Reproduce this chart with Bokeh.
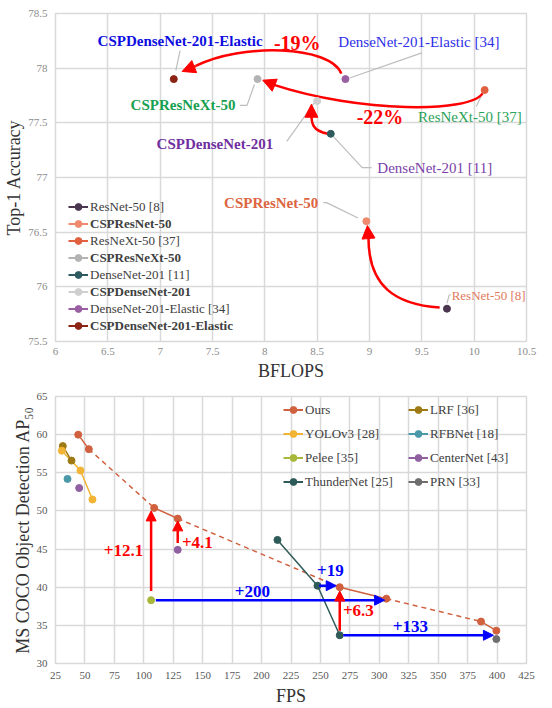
from bokeh.plotting import figure
from bokeh.models import (Legend, LegendItem, Label, Arrow, NormalHead,
                          FixedTicker, NumeralTickFormatter)
from bokeh.layouts import column
from bokeh.embed import file_html
from bokeh.resources import INLINE

SERIF = "Liberation Serif"
GRID = "#d9d9d9"

# ---------------- Top chart: ImageNet classification ----------------
cls_models = ["ResNet-50 [8]", "CSPResNet-50", "ResNeXt-50 [37]", "CSPResNeXt-50",
              "DenseNet-201 [11]", "CSPDenseNet-201", "DenseNet-201-Elastic [34]",
              "CSPDenseNet-201-Elastic"]
cls_bflops = [9.74, 8.97, 10.10, 7.93, 8.63, 8.50, 8.77, 7.13]
cls_top1 = [75.8, 76.6, 77.8, 77.9, 77.4, 77.7, 77.9, 77.9]
cls_colors = ["#4b3650", "#ef8a6e", "#e0603f", "#b3b3b3",
              "#2e5b5f", "#cfcfcf", "#9a5ea2", "#8b2414"]
cls_bold = [False, True, False, True, False, True, False, True]
cls_xticks = [6, 6.5, 7, 7.5, 8, 8.5, 9, 9.5, 10, 10.5]
cls_yticks = [75.5, 76, 76.5, 77, 77.5, 78, 78.5]

# point call-outs: text, colour
cls_callouts = ["ResNet-50 [8]", "CSPResNet-50", "ResNeXt-50  [37]", "CSPResNeXt-50",
                "DenseNet-201  [11]", "CSPDenseNet-201", "DenseNet-201-Elastic  [34]",
                "CSPDenseNet-201-Elastic"]
cls_callout_colors = ["#e07a5c", "#dc6540", "#2aa35a", "#16a050",
                      "#7b3fa8", "#7030a0", "#2f2fe8", "#0d0de0"]
reductions = ["-19%", "-22%"]

# ---------------- Bottom chart: MS COCO detection ----------------
det_names = ["Ours", "LRF [36]", "YOLOv3 [28]", "RFBNet [18]", "Pelee [35]",
             "CenterNet [43]", "ThunderNet [25]", "PRN [33]"]
det_colors = ["#d0603e", "#9e7a14", "#f2b434", "#4a98a8", "#a8b83a",
              "#9060a0", "#2f5a5a", "#6e6e6e"]
ours_fps = [44.3, 53.3, 108.8, 128.8, 266.4, 306.0, 386.4, 399.4]
ours_ap = [60.0, 58.1, 50.4, 49.0, 40.0, 38.5, 35.5, 34.3]
lrf_fps = [31.2, 38.6]
lrf_ap = [58.5, 56.6]
yolo_fps = [30.4, 46.2, 56.4]
yolo_ap = [57.9, 55.3, 51.5]
rfb_fps = [35.2]
rfb_ap = [54.2]
pelee_fps = [106.2]
pelee_ap = [38.3]
center_fps = [45.1, 128.8]
center_ap = [53.0, 44.9]
thunder_fps = [213.5, 247.5, 266.4]
thunder_ap = [46.2, 40.2, 33.7]
prn_fps = [399.4]
prn_ap = [33.2]
det_xticks = list(range(25, 426, 25))
det_yticks = [30, 35, 40, 45, 50, 55, 60, 65]
gains = ["+12.1", "+4.1", "+200", "+19", "+6.3", "+133"]


def style(p, xticks, yticks, tick_color):
    p.xaxis.ticker = FixedTicker(ticks=xticks)
    p.yaxis.ticker = FixedTicker(ticks=yticks)
    p.xaxis.formatter = NumeralTickFormatter(format="0.[0]")
    p.yaxis.formatter = NumeralTickFormatter(format="0.[0]")
    for ax in (p.xaxis, p.yaxis):
        ax.axis_line_color = None
        ax.major_tick_line_color = None
        ax.minor_tick_line_color = None
        ax.major_tick_out = 0
        ax.major_tick_in = 0
        ax.major_label_text_font = SERIF
        ax.major_label_text_font_size = "11px"
        ax.major_label_text_color = tick_color
        ax.axis_label_text_font = SERIF
        ax.axis_label_text_font_style = "normal"
        ax.axis_label_text_font_size = "18px"
        ax.axis_label_text_color = "#333333"
    p.xaxis.major_label_standoff = 6
    p.yaxis.major_label_standoff = 8
    p.xaxis.axis_label_standoff = 3
    p.yaxis.axis_label_standoff = 1
    p.xgrid.grid_line_color = GRID
    p.ygrid.grid_line_color = GRID
    p.xgrid.grid_line_width = 1.5
    p.ygrid.grid_line_width = 1.5
    p.outline_line_color = GRID
    p.outline_line_width = 1.5
    p.background_fill_color = "white"
    p.border_fill_color = "white"


# ======================= TOP FIGURE =======================
p1 = figure(width=544, height=385, x_range=(6, 10.5), y_range=(75.5, 78.5),
            output_backend="svg", toolbar_location=None,
            min_border_left=55, min_border_right=18, min_border_top=13, min_border_bottom=44)
style(p1, cls_xticks, cls_yticks, "#8c8c8c")
p1.xaxis.axis_label = "BFLOPS"
p1.yaxis.axis_label = "Top-1 Accuracy"

LEAD = "#bdbdbd"
bx, by = cls_bflops, cls_top1
# leader lines (anchored at the data points)
leaders = [
    ([bx[0], bx[0] + 0.02, bx[0] + 0.035], [by[0] + 0.05, by[0] + 0.12, by[0] + 0.13]),
    ([bx[1] - 0.08, bx[1] - 0.38, bx[1] - 0.41], [by[1] + 0.03, by[1] + 0.17, by[1] + 0.17]),
    ([bx[2] - 0.02, bx[2] - 0.08], [by[2] - 0.03, by[2] - 0.15]),
    ([bx[3] - 0.03, bx[3] - 0.10, bx[3] - 0.17], [by[3] - 0.05, by[3] - 0.24, by[3] - 0.24]),
    ([bx[4] + 0.03, bx[4] + 0.30, bx[4] + 0.39], [by[4] - 0.03, by[4] - 0.31, by[4] - 0.31]),
    ([bx[5] - 0.03, bx[5] - 0.29], [by[5] - 0.02, by[5] - 0.37]),
    ([bx[6] + 0.04, bx[6] + 0.73], [by[6] + 0.01, by[6] + 0.24]),
    ([bx[7] + 0.02, bx[7] + 0.06], [by[7] + 0.08, by[7] + 0.26]),
]
p1.multi_line([l[0] for l in leaders], [l[1] for l in leaders],
              line_color=LEAD, line_width=1.2)

# curved red arrows (ResNet->CSPResNet, DenseNet->CSPDenseNet, ResNeXt->CSPResNeXt, Elastic)
RED = "#ff0000"
curves = [
    # start, cp1, cp2, end, tip
    ((bx[0] - 0.07, by[0] + 0.01), (9.25, 75.84), (bx[1] + 0.02, 76.00),
     (bx[1] + 0.02, by[1] - 0.15), (bx[1] + 0.01, by[1] - 0.04)),
    ((bx[4] - 0.03, by[4]), (8.45, 77.43), (bx[5] - 0.055, 77.50),
     (bx[5] - 0.055, by[5] - 0.12), (bx[5] - 0.055, by[5] - 0.03)),
    ((bx[2] - 0.02, by[2] - 0.03), (9.96, 77.59), (8.91, 77.59),
     (bx[3] + 0.15, by[3] - 0.05), (bx[3] + 0.05, by[3] - 0.01)),
    ((bx[6] - 0.04, by[6] + 0.05), (8.63, 78.21), (7.77, 78.23),
     (bx[7] + 0.21, by[7] + 0.12), (bx[7] + 0.08, by[7] + 0.07)),
]
p1.bezier(x0=[c[0][0] for c in curves], y0=[c[0][1] for c in curves],
          x1=[c[3][0] for c in curves], y1=[c[3][1] for c in curves],
          cx0=[c[1][0] for c in curves], cy0=[c[1][1] for c in curves],
          cx1=[c[2][0] for c in curves], cy1=[c[2][1] for c in curves],
          line_color=RED, line_width=2.5)
for c in curves:
    p1.add_layout(Arrow(end=NormalHead(size=13, fill_color=RED, line_color=RED),
                        x_start=c[3][0], y_start=c[3][1], x_end=c[4][0], y_end=c[4][1],
                        line_color=RED, line_width=2.5))

# points + legend proxies (single-point lines draw nothing but give the legend its line)
normal_items, bold_items = [], []
for i in range(len(cls_models)):
    proxy = p1.line(x=[bx[i]], y=[by[i]], line_color=cls_colors[i], line_width=2)
    pt = p1.scatter(x=[bx[i]], y=[by[i]], size=7, fill_color=cls_colors[i],
                    line_color=cls_colors[i])
    item = LegendItem(label=cls_models[i], renderers=[proxy, pt])
    (bold_items if cls_bold[i] else normal_items).append(item)

leg_kw = dict(orientation="vertical", glyph_width=20, glyph_height=17, label_height=17,
              spacing=17, padding=0, margin=0, label_standoff=2,
              label_text_font=SERIF, label_text_font_size="13px",
              label_text_color="#404040", border_line_alpha=0, background_fill_alpha=0)
p1.add_layout(Legend(items=normal_items, location=(13, 24), **leg_kw))
p1.add_layout(Legend(items=bold_items, location=(13, 7), label_text_font_style="bold",
                     **leg_kw))

# call-out texts
callout_pos = [  # (x, y, align)
    (bx[0] + 0.045, by[0] + 0.12, "left"),
    (bx[1] - 0.46, by[1] + 0.17, "right"),
    (bx[2] + 0.39, by[2] - 0.25, "right"),
    (bx[3] - 0.21, by[3] - 0.24, "right"),
    (bx[4] + 0.445, by[4] - 0.31, "left"),
    (bx[5] - 0.42, by[5] - 0.39, "right"),
    (bx[6] + 0.72, by[6] + 0.34, "center"),
    (bx[7] + 0.06, by[7] + 0.35, "center"),
]
for i, (x, y, al) in enumerate(callout_pos):
    p1.add_layout(Label(x=x, y=y, text=cls_callouts[i], text_align=al,
                        text_baseline="middle", text_font=SERIF,
                        text_font_size="13px" if i == 0 else "15px",
                        text_color=cls_callout_colors[i],
                        text_font_style="bold" if cls_bold[i] else "normal"))
for txt, (x, y) in zip(reductions, [(8.31, 78.23), (9.10, 77.55)]):
    p1.add_layout(Label(x=x, y=y, text=txt, text_align="center", text_baseline="middle",
                        text_font=SERIF, text_font_size="20px", text_font_style="bold",
                        text_color=RED))

# ======================= BOTTOM FIGURE =======================
p2 = figure(width=544, height=323, x_range=(25, 425), y_range=(30, 65),
            output_backend="svg", toolbar_location=None,
            min_border_left=55, min_border_right=18, min_border_top=11, min_border_bottom=36)
style(p2, det_xticks, det_yticks, "#595959")
p2.xaxis.major_label_standoff = 8
p2.xaxis.axis_label_standoff = 4
p2.xaxis.axis_label = "FPS"
p2.yaxis.axis_label = "MS COCO Object Detection AP\u2085\u2080"

series = [(ours_fps, ours_ap), (lrf_fps, lrf_ap), (yolo_fps, yolo_ap), (rfb_fps, rfb_ap),
          (pelee_fps, pelee_ap), (center_fps, center_ap), (thunder_fps, thunder_ap),
          (prn_fps, prn_ap)]

# Ours: solid and dashed segments
solid_pairs = [(0, 1), (2, 3), (4, 5), (6, 7)]
dash_pairs = [(1, 2), (3, 4), (5, 6)]
p2.multi_line([[ours_fps[a], ours_fps[b]] for a, b in dash_pairs],
              [[ours_ap[a], ours_ap[b]] for a, b in dash_pairs],
              line_color=det_colors[0], line_width=1.5, line_dash="5 4")
p2.multi_line([[ours_fps[a], ours_fps[b]] for a, b in solid_pairs],
              [[ours_ap[a], ours_ap[b]] for a, b in solid_pairs],
              line_color=det_colors[0], line_width=1.5)
# connected competitors
for idx in (2, 1, 6):
    p2.line(series[idx][0], series[idx][1], line_color=det_colors[idx], line_width=1.5)

BLUE = "#0000ff"
gain_arrows = [  # (x0, y0, x1, y1, colour)
    (pelee_fps[0], pelee_ap[0] + 1.2, pelee_fps[0], ours_ap[2] - 0.4, RED),
    (center_fps[1], center_ap[1] + 0.9, center_fps[1], ours_ap[3] - 0.3, RED),
    (pelee_fps[0] + 4, pelee_ap[0], ours_fps[5] - 1.5, pelee_ap[0], BLUE),
    (thunder_fps[1] + 1.5, thunder_ap[1], ours_fps[4] - 3, thunder_ap[1], BLUE),
    (thunder_fps[2], thunder_ap[2] + 0.6, thunder_fps[2], ours_ap[4] - 0.5, RED),
    (thunder_fps[2] + 3, thunder_ap[2], ours_fps[7] - 2.5, thunder_ap[2], BLUE),
]
for x0, y0, x1, y1, col in gain_arrows:
    p2.add_layout(Arrow(end=NormalHead(size=10, fill_color=col, line_color=col),
                        x_start=x0, y_start=y0, x_end=x1, y_end=y1,
                        line_color=col, line_width=2.5))

left_items, right_items = [], []
for i, (xs, ys) in enumerate(series):
    proxy = p2.line(x=[xs[0]], y=[ys[0]], line_color=det_colors[i], line_width=2)
    pt = p2.scatter(x=xs, y=ys, size=7, fill_color=det_colors[i], line_color=det_colors[i])
    item = LegendItem(label=det_names[i], renderers=[proxy, pt])
    (left_items if i % 2 == 0 else right_items).append(item)

leg2_kw = dict(orientation="vertical", glyph_width=20, glyph_height=17, label_height=17,
               spacing=7, padding=0, margin=0, label_standoff=2,
               label_text_font=SERIF, label_text_font_size="13px",
               label_text_color="#404040", border_line_alpha=0, background_fill_alpha=0)
p2.add_layout(Legend(items=left_items, location=(228, 173), **leg2_kw))
p2.add_layout(Legend(items=right_items, location=(353, 173), **leg2_kw))

gain_pos = [(82.7, 44.8, RED), (145.5, 45.8, RED), (192.2, 39.5, BLUE),
            (258.4, 42.2, BLUE), (282.2, 36.9, RED), (326.4, 34.8, BLUE)]
for txt, (x, y, col) in zip(gains, gain_pos):
    p2.add_layout(Label(x=x, y=y, text=txt, text_align="center", text_baseline="middle",
                        text_font=SERIF, text_font_size="17px", text_font_style="bold",
                        text_color=col))

layout = column(p1, p2, spacing=0)
open("out.html", "w").write(file_html(layout, INLINE))
